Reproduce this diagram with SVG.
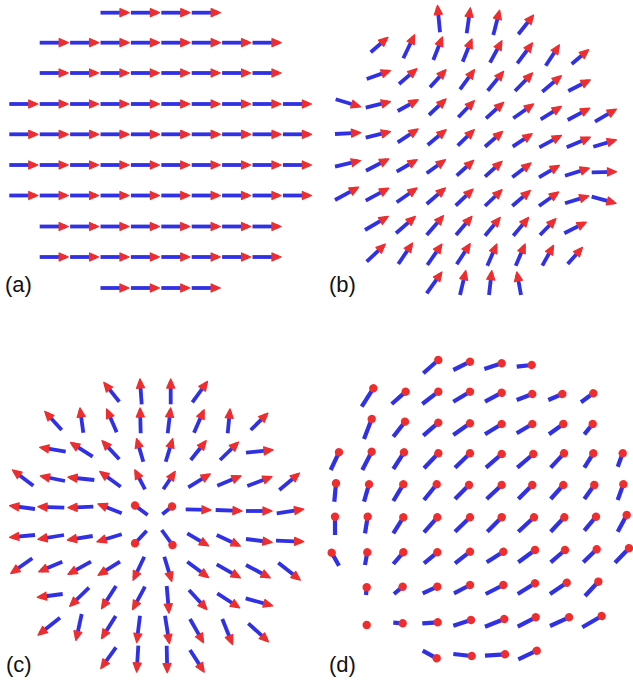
<svg xmlns="http://www.w3.org/2000/svg" width="633" height="681" viewBox="0 0 633 681">
<defs>
<marker id="ah" markerUnits="userSpaceOnUse" orient="auto" refX="0" refY="0" markerWidth="12" markerHeight="12" style="overflow:visible"><path d="M-6.5,-4 L2.6,0 L-6.5,4 Z" fill="#ee2e2e" stroke="#ee2e2e" stroke-width="1.3" stroke-linejoin="round"/></marker>
<marker id="dot" markerUnits="userSpaceOnUse" orient="auto" refX="0" refY="0" markerWidth="10" markerHeight="10" style="overflow:visible"><circle r="4.2" fill="#ee2e2e"/></marker>
</defs>
<style>
line{stroke:#3030e4;stroke-width:3.8;stroke-linecap:butt;marker-end:url(#ah)}
#panel-d line, line.d{marker-end:url(#dot)}
#panel-d line{stroke-width:4.2}
text{font-family:"Liberation Sans",Arial,sans-serif;font-size:22px;fill:#111}
</style>
<rect width="633" height="681" fill="#fff"/>
<g id="panel-a">
<line x1="100.5" y1="12.7" x2="126.5" y2="12.7"/><line x1="130.9" y1="12.7" x2="156.9" y2="12.7"/><line x1="161.3" y1="12.7" x2="187.3" y2="12.7"/><line x1="191.7" y1="12.7" x2="217.7" y2="12.7"/>
<line x1="39.7" y1="42.7" x2="65.7" y2="42.7"/><line x1="70.1" y1="42.7" x2="96.1" y2="42.7"/><line x1="100.5" y1="42.7" x2="126.5" y2="42.7"/><line x1="130.9" y1="42.7" x2="156.9" y2="42.7"/><line x1="161.3" y1="42.7" x2="187.3" y2="42.7"/><line x1="191.7" y1="42.7" x2="217.7" y2="42.7"/><line x1="222.1" y1="42.7" x2="248.1" y2="42.7"/><line x1="252.5" y1="42.7" x2="278.5" y2="42.7"/>
<line x1="39.7" y1="73" x2="65.7" y2="73"/><line x1="70.1" y1="73" x2="96.1" y2="73"/><line x1="100.5" y1="73" x2="126.5" y2="73"/><line x1="130.9" y1="73" x2="156.9" y2="73"/><line x1="161.3" y1="73" x2="187.3" y2="73"/><line x1="191.7" y1="73" x2="217.7" y2="73"/><line x1="222.1" y1="73" x2="248.1" y2="73"/><line x1="252.5" y1="73" x2="278.5" y2="73"/>
<line x1="9.3" y1="104" x2="35.3" y2="104"/><line x1="39.7" y1="104" x2="65.7" y2="104"/><line x1="70.1" y1="104" x2="96.1" y2="104"/><line x1="100.5" y1="104" x2="126.5" y2="104"/><line x1="130.9" y1="104" x2="156.9" y2="104"/><line x1="161.3" y1="104" x2="187.3" y2="104"/><line x1="191.7" y1="104" x2="217.7" y2="104"/><line x1="222.1" y1="104" x2="248.1" y2="104"/><line x1="252.5" y1="104" x2="278.5" y2="104"/><line x1="282.9" y1="104" x2="308.9" y2="104"/>
<line x1="9.3" y1="134.3" x2="35.3" y2="134.3"/><line x1="39.7" y1="134.3" x2="65.7" y2="134.3"/><line x1="70.1" y1="134.3" x2="96.1" y2="134.3"/><line x1="100.5" y1="134.3" x2="126.5" y2="134.3"/><line x1="130.9" y1="134.3" x2="156.9" y2="134.3"/><line x1="161.3" y1="134.3" x2="187.3" y2="134.3"/><line x1="191.7" y1="134.3" x2="217.7" y2="134.3"/><line x1="222.1" y1="134.3" x2="248.1" y2="134.3"/><line x1="252.5" y1="134.3" x2="278.5" y2="134.3"/><line x1="282.9" y1="134.3" x2="308.9" y2="134.3"/>
<line x1="9.3" y1="165" x2="35.3" y2="165"/><line x1="39.7" y1="165" x2="65.7" y2="165"/><line x1="70.1" y1="165" x2="96.1" y2="165"/><line x1="100.5" y1="165" x2="126.5" y2="165"/><line x1="130.9" y1="165" x2="156.9" y2="165"/><line x1="161.3" y1="165" x2="187.3" y2="165"/><line x1="191.7" y1="165" x2="217.7" y2="165"/><line x1="222.1" y1="165" x2="248.1" y2="165"/><line x1="252.5" y1="165" x2="278.5" y2="165"/><line x1="282.9" y1="165" x2="308.9" y2="165"/>
<line x1="9.3" y1="195.5" x2="35.3" y2="195.5"/><line x1="39.7" y1="195.5" x2="65.7" y2="195.5"/><line x1="70.1" y1="195.5" x2="96.1" y2="195.5"/><line x1="100.5" y1="195.5" x2="126.5" y2="195.5"/><line x1="130.9" y1="195.5" x2="156.9" y2="195.5"/><line x1="161.3" y1="195.5" x2="187.3" y2="195.5"/><line x1="191.7" y1="195.5" x2="217.7" y2="195.5"/><line x1="222.1" y1="195.5" x2="248.1" y2="195.5"/><line x1="252.5" y1="195.5" x2="278.5" y2="195.5"/><line x1="282.9" y1="195.5" x2="308.9" y2="195.5"/>
<line x1="39.7" y1="226.5" x2="65.7" y2="226.5"/><line x1="70.1" y1="226.5" x2="96.1" y2="226.5"/><line x1="100.5" y1="226.5" x2="126.5" y2="226.5"/><line x1="130.9" y1="226.5" x2="156.9" y2="226.5"/><line x1="161.3" y1="226.5" x2="187.3" y2="226.5"/><line x1="191.7" y1="226.5" x2="217.7" y2="226.5"/><line x1="222.1" y1="226.5" x2="248.1" y2="226.5"/><line x1="252.5" y1="226.5" x2="278.5" y2="226.5"/>
<line x1="39.7" y1="257" x2="65.7" y2="257"/><line x1="70.1" y1="257" x2="96.1" y2="257"/><line x1="100.5" y1="257" x2="126.5" y2="257"/><line x1="130.9" y1="257" x2="156.9" y2="257"/><line x1="161.3" y1="257" x2="187.3" y2="257"/><line x1="191.7" y1="257" x2="217.7" y2="257"/><line x1="222.1" y1="257" x2="248.1" y2="257"/><line x1="252.5" y1="257" x2="278.5" y2="257"/>
<line x1="100.5" y1="288" x2="126.5" y2="288"/><line x1="130.9" y1="288" x2="156.9" y2="288"/><line x1="161.3" y1="288" x2="187.3" y2="288"/><line x1="191.7" y1="288" x2="217.7" y2="288"/>
<text x="5" y="292">(a)</text>
</g>
<g id="panel-b">
<line x1="440" y1="32.3" x2="437.7" y2="8"/><line x1="466.7" y1="33.3" x2="470" y2="10.3"/><line x1="493.3" y1="35" x2="499" y2="12.7"/><line x1="518.3" y1="34.3" x2="532" y2="17"/>
<line x1="370.7" y1="52.3" x2="386" y2="39"/><line x1="403.3" y1="58.3" x2="413.5" y2="37"/><line x1="433.3" y1="60" x2="441.5" y2="39.3"/><line x1="462.7" y1="61.7" x2="471" y2="41.3"/><line x1="490" y1="62.7" x2="500.7" y2="43"/><line x1="517.3" y1="63.3" x2="531" y2="45"/><line x1="545.7" y1="65.7" x2="558" y2="47"/><line x1="571.7" y1="64" x2="586.7" y2="51.3"/>
<line x1="366.7" y1="79" x2="388" y2="71.4"/><line x1="399" y1="84" x2="415" y2="70.4"/><line x1="430" y1="87.3" x2="444.3" y2="71.6"/><line x1="460" y1="89.3" x2="473" y2="71.7"/><line x1="487.7" y1="90.7" x2="502" y2="73.3"/><line x1="515" y1="91" x2="530.8" y2="74.8"/><line x1="542.3" y1="91.7" x2="559.4" y2="77.3"/><line x1="568.3" y1="91" x2="588" y2="81"/>
<line x1="335.7" y1="99.3" x2="358" y2="106"/><line x1="365.7" y1="107.7" x2="388" y2="102.2"/><line x1="397.7" y1="111" x2="415.9" y2="101"/><line x1="429" y1="115" x2="444.2" y2="100.7"/><line x1="458.3" y1="117.3" x2="472.6" y2="102.5"/><line x1="486" y1="118.3" x2="501.8" y2="104"/><line x1="513.3" y1="118.3" x2="531.5" y2="105.5"/><line x1="540.7" y1="119.3" x2="559.2" y2="107.8"/><line x1="567.7" y1="120" x2="587.5" y2="109.3"/><line x1="595" y1="121.7" x2="614.2" y2="110.4"/>
<line x1="335" y1="134" x2="358" y2="132.8"/><line x1="365.7" y1="137.7" x2="388" y2="132.2"/><line x1="397.7" y1="142.3" x2="416" y2="130.4"/><line x1="427.7" y1="145" x2="444.2" y2="131.3"/><line x1="457.7" y1="145.7" x2="472.5" y2="131.4"/><line x1="485" y1="146.7" x2="500.8" y2="133"/><line x1="512.7" y1="146.7" x2="530" y2="135.1"/><line x1="539.3" y1="147.3" x2="559.2" y2="136.6"/><line x1="566.7" y1="147.3" x2="588" y2="138.2"/><line x1="593.3" y1="146.7" x2="614" y2="140.6"/>
<line x1="335" y1="166.7" x2="358" y2="161.2"/><line x1="366" y1="170.7" x2="386.5" y2="160"/><line x1="396.7" y1="171.7" x2="415" y2="161"/><line x1="426.7" y1="173.3" x2="443.4" y2="161.2"/><line x1="456.7" y1="175.7" x2="471.8" y2="162"/><line x1="485" y1="176.7" x2="500.2" y2="163"/><line x1="512.3" y1="177.3" x2="529" y2="164.5"/><line x1="539" y1="177.3" x2="557.2" y2="166.7"/><line x1="565" y1="175.7" x2="587" y2="168.9"/><line x1="591.7" y1="172.3" x2="614" y2="171.8"/>
<line x1="335" y1="200" x2="356.4" y2="188.4"/><line x1="365.7" y1="200.7" x2="386.5" y2="189.4"/><line x1="396.7" y1="202.3" x2="415" y2="189.5"/><line x1="426.7" y1="204" x2="443.5" y2="189.6"/><line x1="455.7" y1="205.7" x2="471.2" y2="190.8"/><line x1="485" y1="206" x2="500.2" y2="191.5"/><line x1="512.3" y1="206" x2="528.4" y2="192.1"/><line x1="539" y1="206" x2="556.6" y2="193.5"/><line x1="565" y1="203.3" x2="586.4" y2="196.6"/><line x1="591.7" y1="196.7" x2="613.6" y2="202.7"/>
<line x1="365" y1="230" x2="386" y2="217.7"/><line x1="396" y1="233.3" x2="413.4" y2="218.1"/><line x1="426.7" y1="235" x2="441.9" y2="217.6"/><line x1="456" y1="235" x2="470.3" y2="218.3"/><line x1="485" y1="235.7" x2="498.6" y2="219.4"/><line x1="513.3" y1="235.7" x2="527" y2="219.4"/><line x1="540" y1="235" x2="554.2" y2="220.5"/><line x1="564.3" y1="233.3" x2="584" y2="223.3"/>
<line x1="366.7" y1="261.7" x2="383.4" y2="245.8"/><line x1="398.3" y1="264" x2="411.1" y2="245.1"/><line x1="427.3" y1="265" x2="440.5" y2="246.1"/><line x1="456.7" y1="264.3" x2="468.8" y2="245.8"/><line x1="487.3" y1="265.7" x2="495.8" y2="246.3"/><line x1="515.7" y1="265.7" x2="524.1" y2="246.3"/><line x1="542.3" y1="265.7" x2="552.3" y2="247.6"/><line x1="567.7" y1="264" x2="580.8" y2="249.3"/>
<line x1="426.7" y1="293.3" x2="440.4" y2="274.1"/><line x1="460" y1="295" x2="465.2" y2="273.1"/><line x1="489" y1="295" x2="491.5" y2="273.2"/><line x1="521" y1="295" x2="517.3" y2="274.5"/>
<text x="329" y="292">(b)</text>
</g>
<g id="panel-c">
<line x1="119.3" y1="401.7" x2="105.4" y2="384.4"/><line x1="141.7" y1="404.3" x2="140.1" y2="381.5"/><line x1="170.7" y1="404.3" x2="170.7" y2="381.5"/><line x1="192.3" y1="402.3" x2="206" y2="383.5"/>
<line x1="61.7" y1="430" x2="46.5" y2="413.3"/><line x1="83.3" y1="432.7" x2="80.3" y2="410.5"/><line x1="116.7" y1="432.3" x2="107.6" y2="411.3"/><line x1="140.7" y1="433.3" x2="140.1" y2="410.5"/><line x1="167.7" y1="433.3" x2="170.4" y2="410.5"/><line x1="194" y1="432.7" x2="203.1" y2="412"/><line x1="227.7" y1="433.3" x2="229.8" y2="411.5"/><line x1="250.7" y1="430" x2="266.1" y2="414.9"/>
<line x1="65.7" y1="451.7" x2="42.2" y2="447.7"/><line x1="92.7" y1="456.7" x2="72.6" y2="443.9"/><line x1="119.3" y1="459.3" x2="103.8" y2="442.6"/><line x1="143.3" y1="461.7" x2="137.3" y2="441.1"/><line x1="165.7" y1="461.7" x2="172" y2="441.1"/><line x1="190.7" y1="460" x2="204.6" y2="442.7"/><line x1="220" y1="460" x2="236.7" y2="443.8"/><line x1="246" y1="452.7" x2="270.5" y2="450.2"/>
<line x1="33.3" y1="485.7" x2="14.5" y2="471.4"/><line x1="65" y1="481" x2="42.9" y2="476.5"/><line x1="94.3" y1="480" x2="70.5" y2="477.5"/><line x1="120.7" y1="486.7" x2="101.8" y2="473"/><line x1="145" y1="489.3" x2="136" y2="472"/><line x1="163.3" y1="489.3" x2="173.8" y2="473.5"/><line x1="188.3" y1="487.3" x2="208.1" y2="475.2"/><line x1="217.3" y1="485.7" x2="238.7" y2="476.8"/><line x1="247.3" y1="486" x2="269.6" y2="477.5"/><line x1="279.3" y1="490" x2="297.6" y2="474.7"/>
<line x1="35" y1="509" x2="12.2" y2="506"/><line x1="64.3" y1="507.7" x2="40.5" y2="506.8"/><line x1="93.3" y1="506.7" x2="70.5" y2="507.6"/><line x1="121.7" y1="513.3" x2="100.3" y2="504.8"/><line class="d" x1="147.7" y1="515" x2="135" y2="505.5"/><line class="d" x1="162.3" y1="514.3" x2="172" y2="506.5"/><line x1="185.7" y1="509.3" x2="208.5" y2="509.9"/><line x1="215.7" y1="510" x2="239.5" y2="510.9"/><line x1="246" y1="511" x2="269.5" y2="511"/><line x1="276.7" y1="513.3" x2="301.1" y2="509.6"/>
<line x1="35" y1="535" x2="12.2" y2="537.1"/><line x1="64" y1="535" x2="40.5" y2="538.9"/><line x1="92.7" y1="536" x2="69.9" y2="539.6"/><line x1="121.7" y1="534.3" x2="99.4" y2="541"/><line class="d" x1="146.7" y1="530.7" x2="135" y2="543.3"/><line class="d" x1="161.7" y1="530" x2="172.5" y2="545"/><line x1="187.3" y1="533.3" x2="206.4" y2="544.6"/><line x1="216.7" y1="535" x2="238" y2="545"/><line x1="246" y1="539" x2="269.5" y2="542"/><line x1="276" y1="540.7" x2="301.1" y2="541.6"/>
<line x1="32.3" y1="558.3" x2="12.8" y2="572"/><line x1="62.3" y1="561.7" x2="41" y2="570.8"/><line x1="91" y1="561.7" x2="70.2" y2="573.2"/><line x1="120" y1="561.7" x2="100.2" y2="573.9"/><line x1="144.3" y1="556.7" x2="134.2" y2="578"/><line x1="164.3" y1="556.7" x2="171" y2="578.9"/><line x1="187.3" y1="561.7" x2="206.5" y2="576"/><line x1="216.7" y1="564.3" x2="238.1" y2="576.6"/><line x1="246" y1="565" x2="268" y2="576.7"/><line x1="278.3" y1="562.7" x2="298.3" y2="578.6"/>
<line x1="62.7" y1="594" x2="39.9" y2="597"/><line x1="89" y1="587.7" x2="71.6" y2="604.5"/><line x1="116" y1="586" x2="102.9" y2="606.5"/><line x1="145" y1="586.7" x2="133.8" y2="607.4"/><line x1="166.7" y1="586" x2="168.8" y2="610.5"/><line x1="189" y1="590" x2="205.2" y2="607.7"/><line x1="217.3" y1="593.3" x2="237.5" y2="606.5"/><line x1="245.7" y1="598.3" x2="270.2" y2="605.1"/>
<line x1="60" y1="617.7" x2="40" y2="633.6"/><line x1="81.7" y1="614" x2="76.5" y2="637.9"/><line x1="115.7" y1="616" x2="102.9" y2="636.4"/><line x1="140" y1="615.7" x2="137" y2="640.1"/><line x1="165" y1="615.7" x2="169" y2="641.1"/><line x1="190" y1="619" x2="202.2" y2="640.4"/><line x1="222.3" y1="619" x2="231.5" y2="642"/><line x1="248.3" y1="623.3" x2="266.7" y2="640.2"/>
<line x1="116" y1="647.3" x2="102.3" y2="666.5"/><line x1="138.3" y1="645.7" x2="136.8" y2="669.5"/><line x1="166.7" y1="645.7" x2="167.2" y2="670.1"/><line x1="190" y1="650" x2="202.8" y2="669.9"/>
<text x="6" y="672">(c)</text>
</g>
<g id="panel-d">
<line x1="423.3" y1="373.3" x2="438.3" y2="360"/><line x1="453.3" y1="370" x2="470" y2="361.7"/><line x1="484.3" y1="369" x2="501.7" y2="363.3"/><line x1="516.7" y1="366.7" x2="531.7" y2="365"/>
<line x1="361.7" y1="406.7" x2="373.3" y2="388.3"/><line x1="391.7" y1="404" x2="405.7" y2="391.7"/><line x1="422.3" y1="404" x2="438.3" y2="391.7"/><line x1="453.3" y1="401.7" x2="470" y2="391.7"/><line x1="485" y1="401.7" x2="501.7" y2="392.7"/><line x1="516.7" y1="400" x2="532.3" y2="394"/><line x1="548.3" y1="400" x2="562.3" y2="394"/><line x1="581" y1="402.3" x2="593.3" y2="393.3"/>
<line x1="364" y1="439" x2="371.7" y2="419"/><line x1="393.3" y1="436.7" x2="405" y2="421.7"/><line x1="423.3" y1="435.7" x2="438.3" y2="422.7"/><line x1="453.3" y1="435" x2="470" y2="423.3"/><line x1="485" y1="434.3" x2="501.7" y2="424"/><line x1="516.7" y1="433.3" x2="532.3" y2="424"/><line x1="549" y1="434.3" x2="563.3" y2="424"/><line x1="584.3" y1="434.3" x2="592.7" y2="424"/>
<line x1="330.7" y1="470" x2="339" y2="452.3"/><line x1="362.3" y1="470" x2="371.7" y2="451.7"/><line x1="393.3" y1="469" x2="404" y2="452.3"/><line x1="424" y1="468.3" x2="438.3" y2="453.3"/><line x1="455" y1="467.7" x2="470" y2="453.3"/><line x1="486" y1="467.7" x2="501.7" y2="454"/><line x1="517.3" y1="467.7" x2="533.3" y2="454"/><line x1="550.7" y1="467.7" x2="564" y2="453.3"/><line x1="584.3" y1="467.7" x2="593.3" y2="453.3"/><line x1="617.7" y1="466.7" x2="622.7" y2="453.3"/>
<line x1="334.3" y1="501.7" x2="336" y2="483.3"/><line x1="364" y1="501.7" x2="369" y2="484.3"/><line x1="393.3" y1="501" x2="403.3" y2="484.3"/><line x1="424" y1="500" x2="436.7" y2="484.3"/><line x1="455" y1="499" x2="469" y2="485"/><line x1="486.7" y1="499" x2="501.7" y2="485"/><line x1="518.3" y1="499" x2="532.3" y2="485"/><line x1="550.7" y1="499" x2="563.3" y2="485"/><line x1="584.3" y1="499" x2="594.3" y2="485"/><line x1="617.7" y1="500" x2="623.3" y2="484.3"/>
<line x1="335" y1="535" x2="335" y2="516.7"/><line x1="365" y1="533.3" x2="367.7" y2="516.7"/><line x1="393.3" y1="533.3" x2="403.3" y2="517.3"/><line x1="424" y1="532.3" x2="437.3" y2="517.3"/><line x1="455" y1="531.7" x2="470" y2="517.3"/><line x1="487.3" y1="531.7" x2="501.7" y2="517.3"/><line x1="518.3" y1="531.7" x2="534" y2="517.3"/><line x1="550.7" y1="531.7" x2="564.3" y2="517.3"/><line x1="584.3" y1="530.7" x2="596" y2="516.7"/><line x1="617.7" y1="531.7" x2="626.7" y2="515"/>
<line x1="339" y1="565.7" x2="331.7" y2="552.7"/><line x1="365" y1="565" x2="367.3" y2="552.3"/><line x1="393.3" y1="564" x2="403.3" y2="552.3"/><line x1="424" y1="563.3" x2="437.3" y2="552.3"/><line x1="455" y1="563.3" x2="470" y2="551.7"/><line x1="486.7" y1="562.3" x2="503.3" y2="551.7"/><line x1="518.3" y1="562.3" x2="535" y2="550"/><line x1="550.7" y1="562.3" x2="565" y2="550"/><line x1="583.3" y1="562.3" x2="596.7" y2="549.3"/><line x1="615" y1="562.7" x2="629" y2="548.3"/>
<line x1="366" y1="595" x2="366.7" y2="587.3"/><line x1="394" y1="594" x2="402.7" y2="586.7"/><line x1="422.7" y1="593.3" x2="437.3" y2="586.7"/><line x1="454" y1="593.3" x2="470" y2="585"/><line x1="485.7" y1="594" x2="503.3" y2="585"/><line x1="517.7" y1="594" x2="535" y2="583.3"/><line x1="550" y1="594" x2="566.7" y2="582.7"/><line x1="585" y1="596" x2="598.3" y2="581.7"/>
<circle cx="366.7" cy="625" r="4.2" fill="#ee2e2e"/><line x1="393.3" y1="622.7" x2="402.7" y2="623.3"/><line x1="422.3" y1="623.3" x2="437.7" y2="622.3"/><line x1="453.3" y1="625.7" x2="471" y2="620"/><line x1="485" y1="626.7" x2="504.3" y2="619"/><line x1="517.7" y1="626.7" x2="535.7" y2="617.3"/><line x1="550" y1="626" x2="569" y2="617.3"/><line x1="582.3" y1="627.3" x2="601.7" y2="616"/>
<line x1="422.7" y1="650.7" x2="436.7" y2="658.3"/><line x1="453.3" y1="654" x2="471.7" y2="656"/><line x1="485" y1="655.7" x2="505" y2="654.3"/><line x1="518.3" y1="659.3" x2="536.7" y2="650.7"/>
<text x="329" y="672">(d)</text>
</g>
</svg>
